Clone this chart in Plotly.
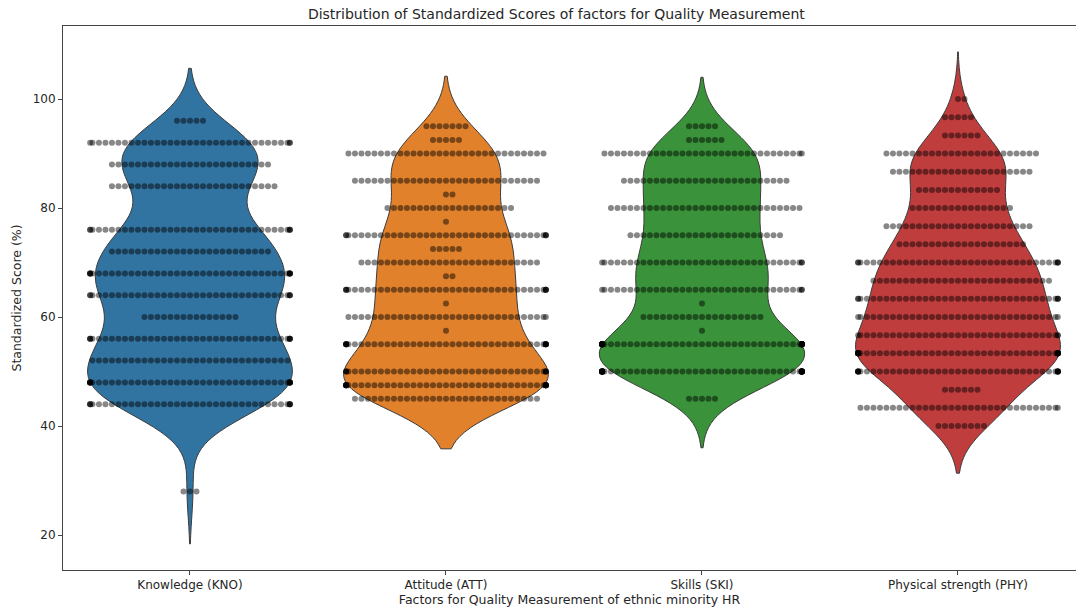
import numpy as np
import plotly.graph_objects as go

# Factor names shown on the x axis
categories = ["Knowledge (KNO)", "Attitude (ATT)", "Skills (SKI)", "Physical strength (PHY)"]

# Standardized score levels and number of respondents at each level
kno_scores = [28, 44, 48, 52, 56, 60, 64, 68, 72, 76, 84, 88, 92, 96]
kno_counts = [3, 38, 44, 31, 38, 15, 36, 40, 25, 36, 26, 25, 34, 5]

att_scores = [45, 47.5, 50, 55, 57.5, 60, 62.5, 65, 67.5, 70, 72.5, 75, 77.5, 80, 82.5, 85, 90, 92.5, 95]
att_counts = [29, 46, 38, 42, 1, 32, 1, 38, 2, 28, 5, 36, 1, 20, 2, 29, 31, 5, 7]

ski_scores = [45, 50, 55, 57.5, 60, 62.5, 65, 70, 75, 80, 85, 90, 92.5, 95]
ski_counts = [5, 60, 60, 1, 19, 1, 34, 34, 24, 30, 26, 32, 6, 5]

phy_scores = [40, 43.33, 46.67, 50, 53.33, 56.67, 60, 63.33, 66.67, 70, 73.33, 76.67,
              80, 83.33, 86.67, 90, 93.33, 96.67, 100]
phy_counts = [8, 32, 6, 42, 50, 34, 33, 36, 28, 36, 20, 23, 16, 13, 22, 24, 6, 5, 2]

y_ticks = [20, 40, 60, 80, 100]

colors = ["#3274a1", "#e1812c", "#3a923a", "#c03d3e"]

groups = [
    (kno_scores, kno_counts),
    (att_scores, att_counts),
    (ski_scores, ski_counts),
    (phy_scores, phy_counts),
]

STEP = 0.0254      # horizontal spacing between neighbouring swarm points
GUTTER = 0.39      # points that do not fit are piled at the edge


def swarm_offsets(n):
    offs = [0.0]
    k = 1
    while len(offs) < n:
        offs.append(k * STEP)
        if len(offs) < n:
            offs.append(-k * STEP)
        k += 1
    return np.clip(np.array(offs[:n]), -GUTTER, GUTTER)


fig = go.Figure()

# Violins (Gaussian KDE, Scott bandwidth, cut at 2 bandwidths)
for i, (scores, counts) in enumerate(groups):
    values = np.repeat(np.array(scores, dtype=float), counts)
    bw = values.std(ddof=1) * len(values) ** (-0.2)
    fig.add_trace(go.Violin(
        y=values, x0=i, name=categories[i], width=0.8,
        bandwidth=bw, spanmode="soft", scalemode="width",
        fillcolor=colors[i], opacity=1,
        line=dict(color="#3b3b3b", width=1),
        points=False, box_visible=False, meanline_visible=False,
        hoverinfo="skip",
    ))

# Swarm of individual scores on top
for i, (scores, counts) in enumerate(groups):
    xs, ys = [], []
    for s, c in zip(scores, counts):
        xs.extend(i + swarm_offsets(c))
        ys.extend([s] * c)
    fig.add_trace(go.Scatter(
        x=xs, y=ys, mode="markers",
        marker=dict(color="rgba(0,0,0,0.47)", size=6, line=dict(width=0)),
        hoverinfo="skip",
    ))

axis_color = "#444444"
fig.update_layout(
    width=1076, height=612,
    margin=dict(l=63, r=0, t=26, b=42),
    plot_bgcolor="white", paper_bgcolor="white",
    showlegend=False, violinmode="overlay",
    font=dict(family="DejaVu Sans", size=12, color="#262626"),
    title=dict(
        text="Distribution of Standardized Scores of factors for Quality Measurement",
        x=0.487, xref="paper", xanchor="center",
        y=1 - 14 / 612, yref="container", yanchor="middle",
        font=dict(size=14, color="#262626"),
    ),
    xaxis=dict(
        type="linear", range=[-0.496, 3.461],
        tickvals=list(range(len(categories))), ticktext=categories,
        showgrid=False, zeroline=False,
        showline=True, mirror=True, linecolor=axis_color, linewidth=1,
        ticks="outside", ticklen=4, tickcolor=axis_color,
        tickfont=dict(size=12),
        title=dict(text="Factors for Quality Measurement of ethnic minority HR",
                   font=dict(size=12.5), standoff=3),
    ),
    yaxis=dict(
        range=[13.58, 113.4], tickvals=y_ticks,
        showgrid=False, zeroline=False,
        showline=True, linecolor=axis_color, linewidth=1,
        ticks="outside", ticklen=4, tickcolor=axis_color,
        tickfont=dict(size=12),
        title=dict(text="Standardized Score (%)", font=dict(size=12.5), standoff=8),
    ),
)

fig.write_html("out.html")
